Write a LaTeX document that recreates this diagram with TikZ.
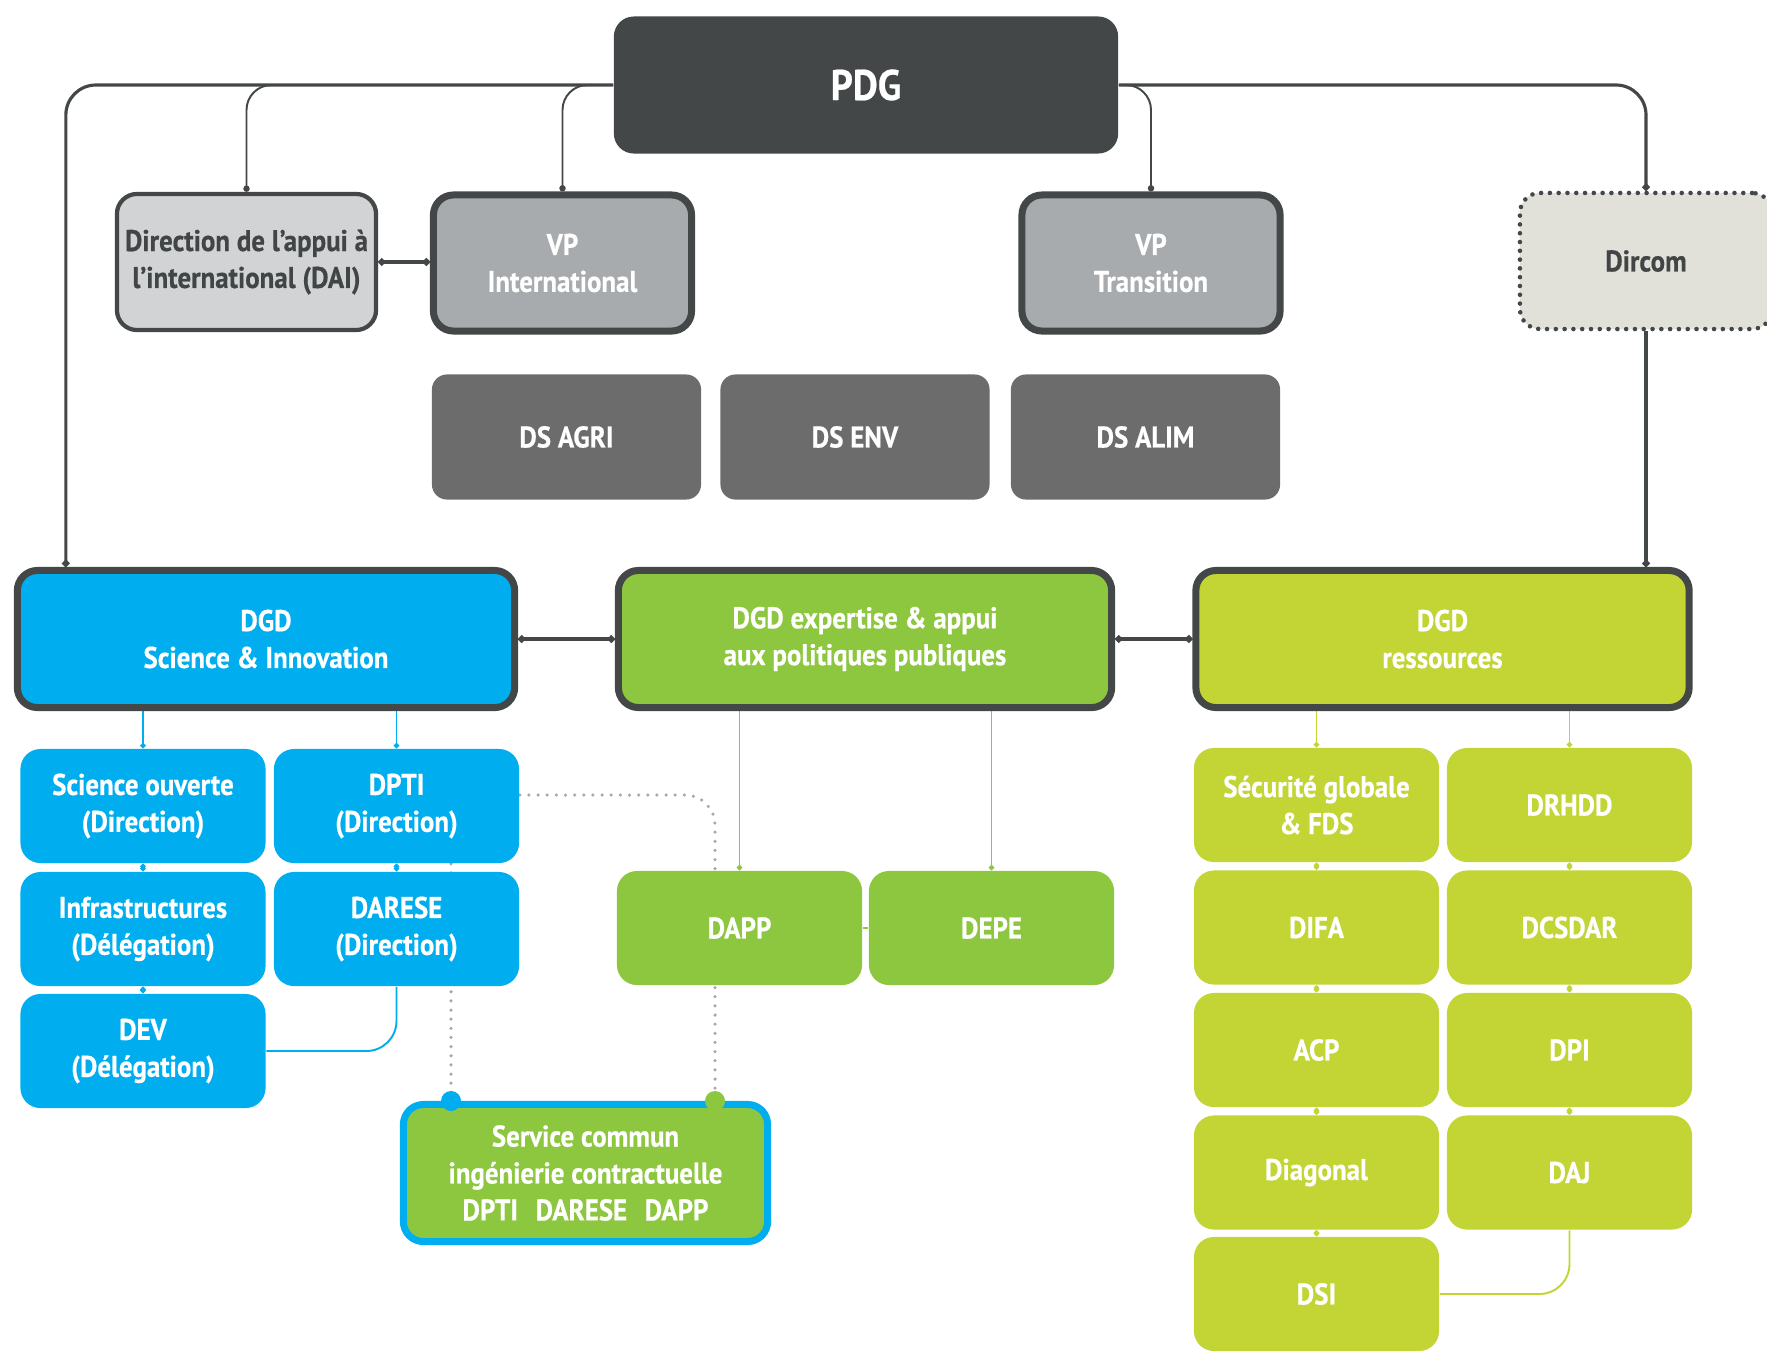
\documentclass[tikz,border=0pt]{standalone}
\usepackage{fontspec}
\newfontfamily\orgfont{PT Sans}[FakeStretch=0.9, BoldFeatures={FakeBold=0.5}]
\usetikzlibrary{arrows.meta,calc,backgrounds}

\definecolor{pdggray}{HTML}{434747}
\definecolor{vpgray}{HTML}{A7ABAD}
\definecolor{daigray}{HTML}{D1D3D4}
\definecolor{dircomfill}{HTML}{E1E1DA}
\definecolor{dsgray}{HTML}{6C6C6C}
\definecolor{sciblue}{HTML}{00AEEF}
\definecolor{expgreen}{HTML}{8DC63F}
\definecolor{reslime}{HTML}{C2D534}
\definecolor{dotgray}{HTML}{A6A8AB}
\definecolor{textdark}{HTML}{414545}

\begin{document}
\begin{tikzpicture}[x=0.01cm,y=-0.01cm]

% Sizes of the boxes
\def\bw{2.45cm}   % width of a small box
\def\bh{1.14cm}   % height of a small box

% Box styles
\tikzstyle{box}=[rounded corners=0.2cm, align=center, text=white, inner sep=0pt,
                 font=\orgfont\bfseries\fontsize{8.5}{10.5}\selectfont]
\tikzstyle{pdgbox}=[box, fill=pdggray, minimum width=5.04cm, minimum height=1.37cm,
                    font=\orgfont\bfseries\fontsize{12.2}{14}\selectfont]
\tikzstyle{vpbox}=[box, fill=vpgray, draw=pdggray, line width=2pt, minimum width=2.58cm, minimum height=1.36cm]
\tikzstyle{daibox}=[box, fill=daigray, draw=pdggray, line width=1.2pt, text=textdark, minimum width=2.59cm, minimum height=1.36cm]
\tikzstyle{dircombox}=[box, fill=dircomfill, draw=pdggray, line width=1.3pt, text=textdark,
                       dash pattern=on 0pt off 2.5pt, line cap=round, minimum width=2.52cm, minimum height=1.36cm]
\tikzstyle{dsbox}=[box, rounded corners=0.15cm, fill=dsgray, minimum width=2.69cm, minimum height=1.25cm]
\tikzstyle{dgdbox}=[box, draw=pdggray, line width=2pt, minimum width=4.93cm, minimum height=1.37cm]
\tikzstyle{unitbox}=[box, minimum width=\bw, minimum height=\bh]
\tikzstyle{scbox}=[box, fill=expgreen, draw=sciblue, line width=2pt, minimum width=3.64cm, minimum height=1.37cm]

% Connector styles
\tikzstyle{mainline}=[draw=pdggray, line width=0.9pt]
\tikzstyle{branchline}=[draw=pdggray, line width=0.55pt]
\tikzstyle{bluelink}=[draw=sciblue, line width=0.55pt]
\tikzstyle{greenlink}=[draw=expgreen, line width=0.55pt]
\tikzstyle{limelink}=[draw=reslime, line width=0.55pt]
\tikzstyle{dottedlink}=[draw=dotgray, line width=1pt, dash pattern=on 0pt off 2.6pt, line cap=round]

\useasboundingbox (0,0) rectangle (1767,1351);

% Top of the chart
\node[pdgbox] (pdg) at (866,85) {PDG};
\node[daibox] (dai) at (246.5,262) {Direction de l’appui à\\l’international (DAI)};
\node[vpbox] (vpi) at (562.5,263) {VP\\International};
\node[vpbox] (vpt) at (1151,263) {VP\\Transition};
\node[dircombox] (dircom) at (1646,261) {Dircom};

% Scientific directors
\node[dsbox] (dsagri) at (566.5,437) {DS AGRI};
\node[dsbox] (dsenv) at (855,437) {DS ENV};
\node[dsbox] (dsalim) at (1145.5,437) {DS ALIM};

% The three DGD
\node[dgdbox, fill=sciblue, minimum width=4.97cm] (dgdsi) at (266,639) {DGD\\Science \& Innovation};
\node[dgdbox, fill=expgreen] (dgdexp) at (865,639) {DGD expertise \& appui\\aux politiques publiques};
\node[dgdbox, fill=reslime] (dgdres) at (1442.5,639) {DGD\\ressources};

% Science & Innovation
\node[unitbox, fill=sciblue] (so) at (143,806) {Science ouverte\\(Direction)};
\node[unitbox, fill=sciblue] (dpti) at (396.5,806) {DPTI\\(Direction)};
\node[unitbox, fill=sciblue] (infra) at (143,929) {Infrastructures\\(Délégation)};
\node[unitbox, fill=sciblue] (darese) at (396.5,929) {DARESE\\(Direction)};
\node[unitbox, fill=sciblue] (dev) at (143,1051) {DEV\\(Délégation)};

% Expertise
\node[unitbox, fill=expgreen] (dapp) at (739.5,928) {DAPP};
\node[unitbox, fill=expgreen] (depe) at (991.5,928) {DEPE};
\node[scbox] (sc) at (585.5,1173) {Service commun\\ingénierie contractuelle\\DPTI\hspace{5pt}DARESE\hspace{5pt}DAPP};

% Ressources
\node[unitbox, fill=reslime] (sg) at (1316.5,805) {Sécurité globale\\\& FDS};
\node[unitbox, fill=reslime] (drhdd) at (1569.5,805) {DRHDD};
\node[unitbox, fill=reslime] (difa) at (1316.5,927.5) {DIFA};
\node[unitbox, fill=reslime] (dcsdar) at (1569.5,927.5) {DCSDAR};
\node[unitbox, fill=reslime] (acp) at (1316.5,1050) {ACP};
\node[unitbox, fill=reslime] (dpi) at (1569.5,1050) {DPI};
\node[unitbox, fill=reslime] (diag) at (1316.5,1172.5) {Diagonal};
\node[unitbox, fill=reslime] (daj) at (1569.5,1172.5) {DAJ};
\node[unitbox, fill=reslime] (dsi) at (1316.5,1294) {DSI};

% Free ends of the connectors
\coordinate (sitop) at ($(dgdsi.north west)+(52,0)$);  % where the left line meets DGD SI
\coordinate (scdpti) at (451,1101);                     % blue dot on the service commun
\coordinate (scdapp) at (715,1101);                     % green dot on the service commun

\begin{scope}[on background layer]
  % Lines from the PDG
  \draw[mainline, rounded corners=0.3cm, -{Circle[length=2pt]}] (pdg.west) -| (sitop);
  \draw[mainline, rounded corners=0.3cm, -{Circle[length=2pt]}] (pdg.east) -| (dircom.north);
  \draw[mainline, -{Circle[length=2pt]}] (dircom.south) -- (dircom.south |- dgdres.north);
  \draw[branchline, rounded corners=0.25cm, -{Circle[length=1.8pt]}] (pdg.west) -| (dai.north);
  \draw[branchline, rounded corners=0.25cm, -{Circle[length=1.8pt]}] (pdg.west) -| (vpi.north);
  \draw[branchline, rounded corners=0.25cm, -{Circle[length=1.8pt]}] (pdg.east) -| (vpt.north);
  \draw[mainline, {Circle[length=2pt]}-{Circle[length=2pt]}] (dai.east) -- (dai.east -| vpi.west);

  % Links between the DGD
  \draw[mainline, {Circle[length=2pt]}-{Circle[length=2pt]}] (dgdsi.east) -- (dgdexp.west);
  \draw[mainline, {Circle[length=2pt]}-{Circle[length=2pt]}] (dgdexp.east) -- (dgdres.west);

  % Science & Innovation
  \draw[bluelink, -{Circle[length=1.5pt]}] (so.north |- dgdsi.south) -- (so.north);
  \draw[bluelink, -{Circle[length=1.5pt]}] (dpti.north |- dgdsi.south) -- (dpti.north);
  \draw[bluelink, {Circle[length=1.5pt]}-{Circle[length=1.5pt]}] (so.south) -- (infra.north);
  \draw[bluelink, {Circle[length=1.5pt]}-{Circle[length=1.5pt]}] (infra.south) -- (dev.north);
  \draw[bluelink, {Circle[length=1.5pt]}-{Circle[length=1.5pt]}] (dpti.south) -- (darese.north);
  \draw[bluelink, rounded corners=0.3cm] (darese.south) |- (dev.east);

  % Service commun
  \draw[dottedlink, rounded corners=0.3cm] ($(dpti.east)+(0,-11)$) -| (scdapp);
  \draw[dottedlink] (scdpti |- dpti.south) -- (scdpti);

  % Expertise
  \draw[greenlink, -{Circle[length=1.5pt]}] (dapp.north |- dgdexp.south) -- (dapp.north);
  \draw[greenlink, -{Circle[length=1.5pt]}] (depe.north |- dgdexp.south) -- (depe.north);
  \draw[greenlink] (dapp.east) -- (depe.west);

  % Ressources
  \draw[limelink, -{Circle[length=1.5pt]}] (sg.north |- dgdres.south) -- (sg.north);
  \draw[limelink, -{Circle[length=1.5pt]}] (drhdd.north |- dgdres.south) -- (drhdd.north);
  \draw[limelink, {Circle[length=1.5pt]}-{Circle[length=1.5pt]}] (sg.south) -- (difa.north);
  \draw[limelink, {Circle[length=1.5pt]}-{Circle[length=1.5pt]}] (difa.south) -- (acp.north);
  \draw[limelink, {Circle[length=1.5pt]}-{Circle[length=1.5pt]}] (acp.south) -- (diag.north);
  \draw[limelink, {Circle[length=1.5pt]}-{Circle[length=1.5pt]}] (diag.south) -- (dsi.north);
  \draw[limelink, {Circle[length=1.5pt]}-{Circle[length=1.5pt]}] (drhdd.south) -- (dcsdar.north);
  \draw[limelink, {Circle[length=1.5pt]}-{Circle[length=1.5pt]}] (dcsdar.south) -- (dpi.north);
  \draw[limelink, {Circle[length=1.5pt]}-{Circle[length=1.5pt]}] (dpi.south) -- (daj.north);
  \draw[limelink, rounded corners=0.3cm] (daj.south) |- (dsi.east);
\end{scope}

% Dots where the dotted lines reach the service commun
\fill[sciblue] (scdpti) circle[radius=0.1cm];
\fill[expgreen] (scdapp) circle[radius=0.1cm];

\end{tikzpicture}
\end{document}
